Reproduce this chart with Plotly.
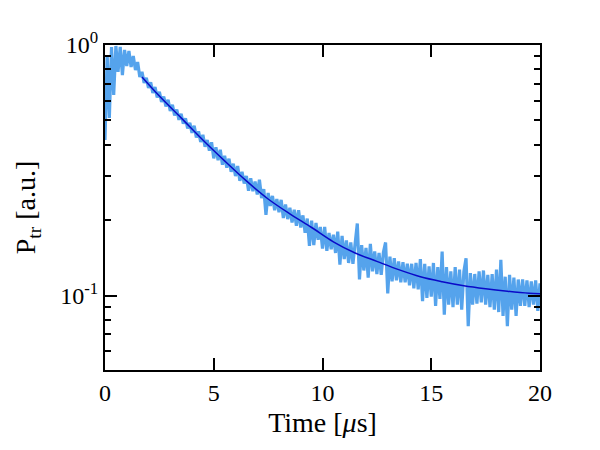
import numpy as np
import plotly.graph_objects as go

# measured transmitted power (a.u.), sampled every 0.1 us from 0 to 20 us
signal = [
    0.418, 0.912, 0.512, 0.982, 0.632, 0.991, 0.781, 0.982, 0.759, 0.955,
    0.825, 0.946, 0.817, 0.904, 0.795, 0.855, 0.746, 0.781, 0.706, 0.739,
    0.674, 0.709, 0.644, 0.680, 0.618, 0.650, 0.593, 0.623, 0.569, 0.604,
    0.546, 0.577, 0.523, 0.553, 0.503, 0.531, 0.485, 0.510, 0.465, 0.489,
    0.446, 0.476, 0.428, 0.452, 0.410, 0.438, 0.393, 0.418, 0.379, 0.409,
    0.353, 0.391, 0.347, 0.382, 0.333, 0.361, 0.324, 0.352, 0.312, 0.336,
    0.300, 0.329, 0.287, 0.312, 0.280, 0.300, 0.262, 0.294, 0.261, 0.285,
    0.253, 0.290, 0.245, 0.266, 0.210, 0.257, 0.228, 0.250, 0.219, 0.243,
    0.215, 0.241, 0.204, 0.231, 0.202, 0.224, 0.196, 0.220, 0.190, 0.219,
    0.187, 0.209, 0.178, 0.203, 0.158, 0.199, 0.159, 0.195, 0.167, 0.188,
    0.154, 0.188, 0.151, 0.178, 0.153, 0.175, 0.148, 0.180, 0.133, 0.173,
    0.140, 0.166, 0.135, 0.163, 0.134, 0.163, 0.194, 0.116, 0.159, 0.126,
    0.155, 0.118, 0.161, 0.125, 0.150, 0.122, 0.148, 0.121, 0.149, 0.163,
    0.102, 0.143, 0.114, 0.141, 0.115, 0.137, 0.113, 0.136, 0.113, 0.134,
    0.110, 0.134, 0.107, 0.135, 0.106, 0.140, 0.095, 0.134, 0.098, 0.131,
    0.099, 0.135, 0.091, 0.130, 0.097, 0.150, 0.084, 0.130, 0.092, 0.125,
    0.090, 0.130, 0.092, 0.127, 0.088, 0.125, 0.141, 0.0755, 0.123, 0.092,
    0.122, 0.093, 0.125, 0.094, 0.126, 0.092, 0.121, 0.090, 0.122, 0.088,
    0.127, 0.086, 0.139, 0.083, 0.119, 0.0755, 0.121, 0.088, 0.118, 0.083,
    0.116, 0.091, 0.116, 0.091, 0.115, 0.090, 0.114, 0.092, 0.115, 0.087,
    0.112,
]
time = np.round(np.arange(len(signal)) * 0.1, 2)

# fitted decay curve
fit_time = [1.7, 2.5, 3.5, 4.5, 5.5, 6.5, 7.5, 8.5, 9.5, 10.5, 11.5, 12.5,
            13.5, 14.5, 15.5, 16.5, 17.5, 18.5, 19.5, 20.0]
fit_value = [0.746, 0.626, 0.512, 0.418, 0.345, 0.287, 0.243, 0.212, 0.187,
             0.164, 0.148, 0.137, 0.127, 0.119, 0.1137, 0.1096, 0.1066,
             0.1042, 0.1023, 0.1018]

x_ticks = [0, 5, 10, 15, 20]
y_ticks = [0.1, 1.0]
y_ticktext = ["10<sup>-1</sup>", "10<sup>0</sup>"]
y_minor = [0.06, 0.07, 0.08, 0.09, 0.2, 0.3, 0.4, 0.5, 0.6, 0.7, 0.8, 0.9]

FONT = "Liberation Serif"

fig = go.Figure()
fig.add_trace(go.Scatter(x=time, y=signal, mode="lines",
                         line=dict(color="#55a3ec", width=3.2),
                         showlegend=False, hoverinfo="skip"))
fig.add_trace(go.Scatter(x=fit_time, y=fit_value, mode="lines",
                         line=dict(color="#0a0ac8", width=1.5, shape="spline"),
                         showlegend=False, hoverinfo="skip"))

fig.update_layout(
    width=600, height=450,
    margin=dict(l=105, r=60, t=45, b=80),
    paper_bgcolor="white", plot_bgcolor="white",
    font=dict(family=FONT, color="black", size=24),
)
fig.update_xaxes(
    range=[0, 20], tickmode="array", tickvals=x_ticks,
    ticks="inside", ticklen=12, tickwidth=1.5, tickcolor="black",
    showline=True, linecolor="black", linewidth=2, mirror="allticks",
    showgrid=False, zeroline=False,
    tickfont=dict(family=FONT, size=24),
    title=dict(text="Time [<i>μ</i>s]", font=dict(family=FONT, size=28), standoff=8),
)
fig.update_yaxes(
    type="log", range=[np.log10(0.0505), 0],
    tickmode="array", tickvals=y_ticks, ticktext=y_ticktext,
    ticks="inside", ticklen=12, tickwidth=1.5, tickcolor="black",
    minor=dict(tickmode="array", tickvals=y_minor, ticks="inside",
               ticklen=6, tickwidth=1.5, tickcolor="black", showgrid=False),
    showline=True, linecolor="black", linewidth=2, mirror="allticks",
    showgrid=False, zeroline=False,
    tickfont=dict(family=FONT, size=24),
    title=dict(text="P<sub>tr</sub> [a.u.]", font=dict(family=FONT, size=28), standoff=16),
)

fig.write_html("out.html")
